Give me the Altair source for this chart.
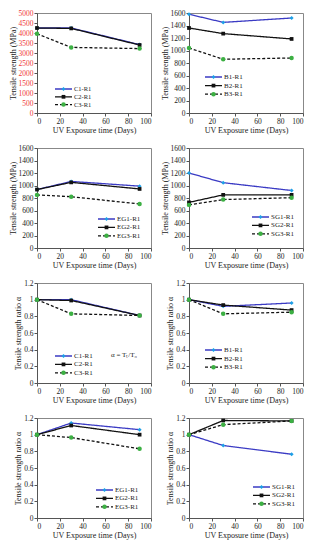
import altair as alt
import pandas as pd

days = [0, 30, 90]

c_names = ["C1-R1", "C2-R1", "C3-R1"]
c_strength = [[4250, 4250, 3420], [4250, 4230, 3400], [3960, 3280, 3220]]
b_names = ["B1-R1", "B2-R1", "B3-R1"]
b_strength = [[1580, 1450, 1520], [1360, 1270, 1185], [1040, 860, 880]]
eg_names = ["EG1-R1", "EG2-R1", "EG3-R1"]
eg_strength = [[935, 1065, 990], [935, 1050, 945], [850, 820, 705]]
sg_names = ["SG1-R1", "SG2-R1", "SG3-R1"]
sg_strength = [[1200, 1045, 920], [730, 850, 850], [690, 775, 805]]

c_ratio = [[1, 1.0, 0.81], [1, 0.99, 0.81], [1, 0.83, 0.81]]
b_ratio = [[1, 0.92, 0.96], [1, 0.935, 0.875], [1, 0.83, 0.85]]
eg_ratio = [[1, 1.14, 1.06], [1, 1.11, 1.0], [1, 0.965, 0.83]]
sg_ratio = [[1, 0.87, 0.765], [1, 1.17, 1.165], [1, 1.12, 1.165]]

x_ticks = [0, 20, 40, 60, 80, 100]
y_ticks_c = [0, 500, 1000, 1500, 2000, 2500, 3000, 3500, 4000, 4500, 5000]
y_ticks_s = [0, 200, 400, 600, 800, 1000, 1200, 1400, 1600]
y_ticks_r = [0, 0.2, 0.4, 0.6, 0.8, 1.0, 1.2]

FONT = "Liberation Serif"
W, H = 114, 100
line_colors = ["#3b3bc4", "#111111", "#111111"]
marker_colors = ["#1ea0e6", "#111111", "#3cb043"]
shapes = ["diamond", "square", "circle"]
dashes = [[1, 0], [1, 0], [3, 2]]
sizes = [16, 14, 20]


def panel(names, vals, yticks, ytitle, yfmt, label_color, leg, fs=7):
    rows = []
    for n, v in zip(names, vals):
        for d, y in zip(days, v):
            rows.append({"day": d, "value": y, "series": n})
    df = pd.DataFrame(rows)
    xs = alt.X("day:Q", scale=alt.Scale(domain=[0, 100]),
               axis=alt.Axis(values=x_ticks, title="UV Exposure time (Days)"))
    ys = alt.Y("value:Q", scale=alt.Scale(domain=[yticks[0], yticks[-1]], nice=False),
               axis=alt.Axis(values=yticks, title=ytitle, format=yfmt, labelColor=label_color))
    base = alt.Chart(df)
    layers = []
    for i, n in enumerate(names):
        sub = base.transform_filter(alt.datum.series == n)
        layers.append(sub.mark_line(color=line_colors[i], strokeDash=dashes[i], strokeWidth=1.3)
                      .encode(x=xs, y=ys))
    for i, n in enumerate(names):
        sub = base.transform_filter(alt.datum.series == n)
        layers.append(sub.mark_point(shape=shapes[i], filled=True, color=marker_colors[i],
                                     size=sizes[i], opacity=1).encode(x=xs, y=ys))
    lx0, ly0, dy = leg
    one = alt.Chart(pd.DataFrame({"k": [0]}))
    for i, n in enumerate(names):
        yv = ly0 + i * dy
        layers.append(one.mark_rule(color=line_colors[i], strokeDash=dashes[i], strokeWidth=1.3)
                      .encode(x=alt.value(lx0), x2=alt.value(lx0 + 17), y=alt.value(yv)))
        layers.append(one.mark_point(shape=shapes[i], filled=True, color=marker_colors[i],
                                     size=sizes[i], opacity=1)
                      .encode(x=alt.value(lx0 + 8.5), y=alt.value(yv)))
        layers.append(one.mark_text(align="left", baseline="middle", font=FONT, fontSize=fs,
                                    color="#222222")
                      .encode(x=alt.value(lx0 + 19), y=alt.value(yv), text=alt.value(n)))
    return alt.layer(*layers).properties(width=W, height=H)


ST = "Tensile strength (MPa)"
RT = "Tensile strength ratio \u03b1"

p1 = panel(c_names, c_strength, y_ticks_c, ST, "d", "#f03a3a", (18, 76, 7.8), fs=6.5)
p2 = panel(b_names, b_strength, y_ticks_s, ST, "d", "#222222", (16, 64, 8.6))
p3 = panel(eg_names, eg_strength, y_ticks_s, ST, "d", "#222222", (61, 71, 8.4))
p4 = panel(sg_names, sg_strength, y_ticks_s, ST, "d", "#222222", (63, 69, 8.4))
p5 = panel(c_names, c_ratio, y_ticks_r, RT, "~g", "#222222", (18, 73, 8.4))
formula = alt.Chart(pd.DataFrame({"k": [0]})).mark_text(
    align="center", baseline="middle", font=FONT, fontSize=7, color="#222222"
).encode(x=alt.value(87), y=alt.value(72), text=alt.value("\u03b1 = T\u209c/T\u2080"))
p5 = alt.layer(p5, formula)
p6 = panel(b_names, b_ratio, y_ticks_r, RT, "~g", "#222222", (16, 67, 8.6))
p7 = panel(eg_names, eg_ratio, y_ticks_r, RT, "~g", "#222222", (59, 72, 8.4))
p8 = panel(sg_names, sg_ratio, y_ticks_r, RT, "~g", "#222222", (64, 69, 8.4))

chart = alt.concat(p1, p2, p3, p4, p5, p6, p7, p8, columns=2,
                   spacing=alt.RowColnumber(row=35, column=38),
                   bounds="flush").properties(padding=0).configure_view(
    stroke="#888888", strokeWidth=1
).configure_axis(
    grid=False, labelFont=FONT, titleFont=FONT, labelFontSize=7.5, titleFontSize=8,
    titleFontWeight="normal", titleColor="#222222", labelColor="#222222",
    domainColor="#555555", tickColor="#555555", tickSize=3, labelPadding=1,
    titlePadding=1
).configure_axisX(titlePadding=2)

chart.save("out.html", embed_options={"renderer": "svg", "actions": False})
